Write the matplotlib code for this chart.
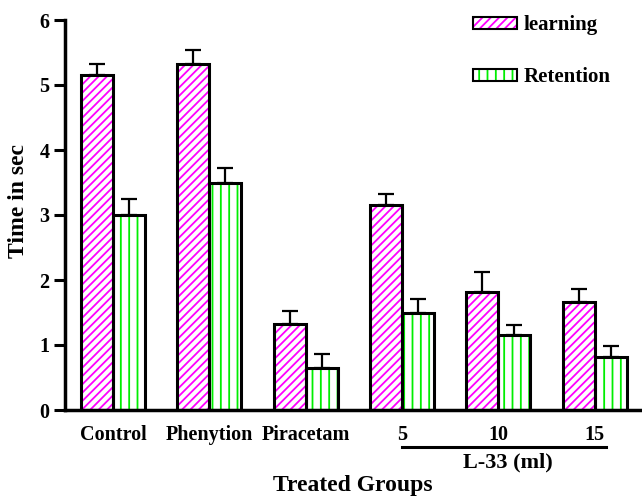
import matplotlib
matplotlib.use("Agg")
import matplotlib.pyplot as plt
import numpy as np
from matplotlib.patches import Rectangle

categories = ["Control", "Phenytion", "Piracetam", "5", "10", "15"]
learning = [5.15, 5.33, 1.32, 3.15, 1.82, 1.66]
learning_err = [0.17, 0.21, 0.21, 0.17, 0.30, 0.20]
retention = [3.00, 3.49, 0.65, 1.50, 1.15, 0.82]
retention_err = [0.25, 0.23, 0.21, 0.21, 0.16, 0.16]
group_label = "L-33 (ml)"

plt.rcParams['font.family'] = ['Liberation Serif', 'DejaVu Serif']
plt.rcParams['font.weight'] = 'bold'
plt.rcParams['hatch.linewidth'] = 1.3

fig = plt.figure(figsize=(6.42, 4.97), dpi=100)
ax = fig.add_axes([65/642, 87/497, 1 - 65/642, 390/497])

x = np.arange(len(categories))
w = 0.332
magenta = '#ff00ff'
green = '#00ee00'

ax.bar(x - w/2, learning, w, color='white', edgecolor=magenta, hatch='////', linewidth=0, zorder=2)
ax.bar(x + w/2, retention, w, color='white', edgecolor=green, hatch='||', linewidth=0, zorder=2)
ax.bar(x - w/2, learning, w, fill=False, edgecolor='black', linewidth=2.2, zorder=3)
ax.bar(x + w/2, retention, w, fill=False, edgecolor='black', linewidth=2.2, zorder=3)
ax.errorbar(x - w/2, learning, yerr=[np.zeros(len(x)), learning_err], fmt='none',
            ecolor='black', elinewidth=1.6, capsize=6, capthick=1.6, zorder=1)
ax.errorbar(x + w/2, retention, yerr=[np.zeros(len(x)), retention_err], fmt='none',
            ecolor='black', elinewidth=1.6, capsize=6, capthick=1.6, zorder=1)

ax.set_xlim(-0.498, 5.49)
ax.set_ylim(0, 6)
ax.set_yticks(range(0, 7))
ax.set_xticks(x)
ax.set_xticklabels(categories, fontsize=14.5, fontweight='bold')
ax.tick_params(axis='x', length=0, pad=11)
ax.tick_params(axis='y', length=8, width=2.2, labelsize=14.5, pad=3)
for lab in ax.get_yticklabels():
    lab.set_fontweight('bold')
ax.spines['top'].set_visible(False)
ax.spines['right'].set_visible(False)
ax.spines['left'].set_linewidth(2.5)
ax.spines['bottom'].set_linewidth(2.5)
fig.text(19/642, 1 - 201/497, "Time in sec", fontsize=17, fontweight='bold',
         rotation=90, ha='center', va='center')
fig.text(353/642, 1 - 486/497, "Treated Groups", fontsize=17, fontweight='bold', ha='center', va='center')

tr = ax.get_xaxis_transform()
ax.plot([2.995, 5.12], [-0.095, -0.095], transform=tr, color='black', linewidth=2.2, clip_on=False)
ax.text(4.1, -0.135, group_label, transform=tr, ha='center', va='center', fontsize=16, fontweight='bold')

fig.add_artist(Rectangle((473/642, 1 - 29/497), 44/642, 12/497, transform=fig.transFigure,
                         facecolor='white', edgecolor=magenta, hatch='////', linewidth=0))
fig.add_artist(Rectangle((473/642, 1 - 29/497), 44/642, 12/497, transform=fig.transFigure,
                         fill=False, edgecolor='black', linewidth=1.5))
fig.add_artist(Rectangle((473/642, 1 - 81/497), 44/642, 12/497, transform=fig.transFigure,
                         facecolor='white', edgecolor=green, hatch='||', linewidth=0))
fig.add_artist(Rectangle((473/642, 1 - 81/497), 44/642, 12/497, transform=fig.transFigure,
                         fill=False, edgecolor='black', linewidth=1.5))
fig.text(524/642, 1 - 25/497, "learning", fontsize=15, fontweight='bold', va='center', ha='left')
fig.text(524/642, 1 - 77/497, "Retention", fontsize=15, fontweight='bold', va='center', ha='left')

fig.savefig("out.png", dpi=100)
